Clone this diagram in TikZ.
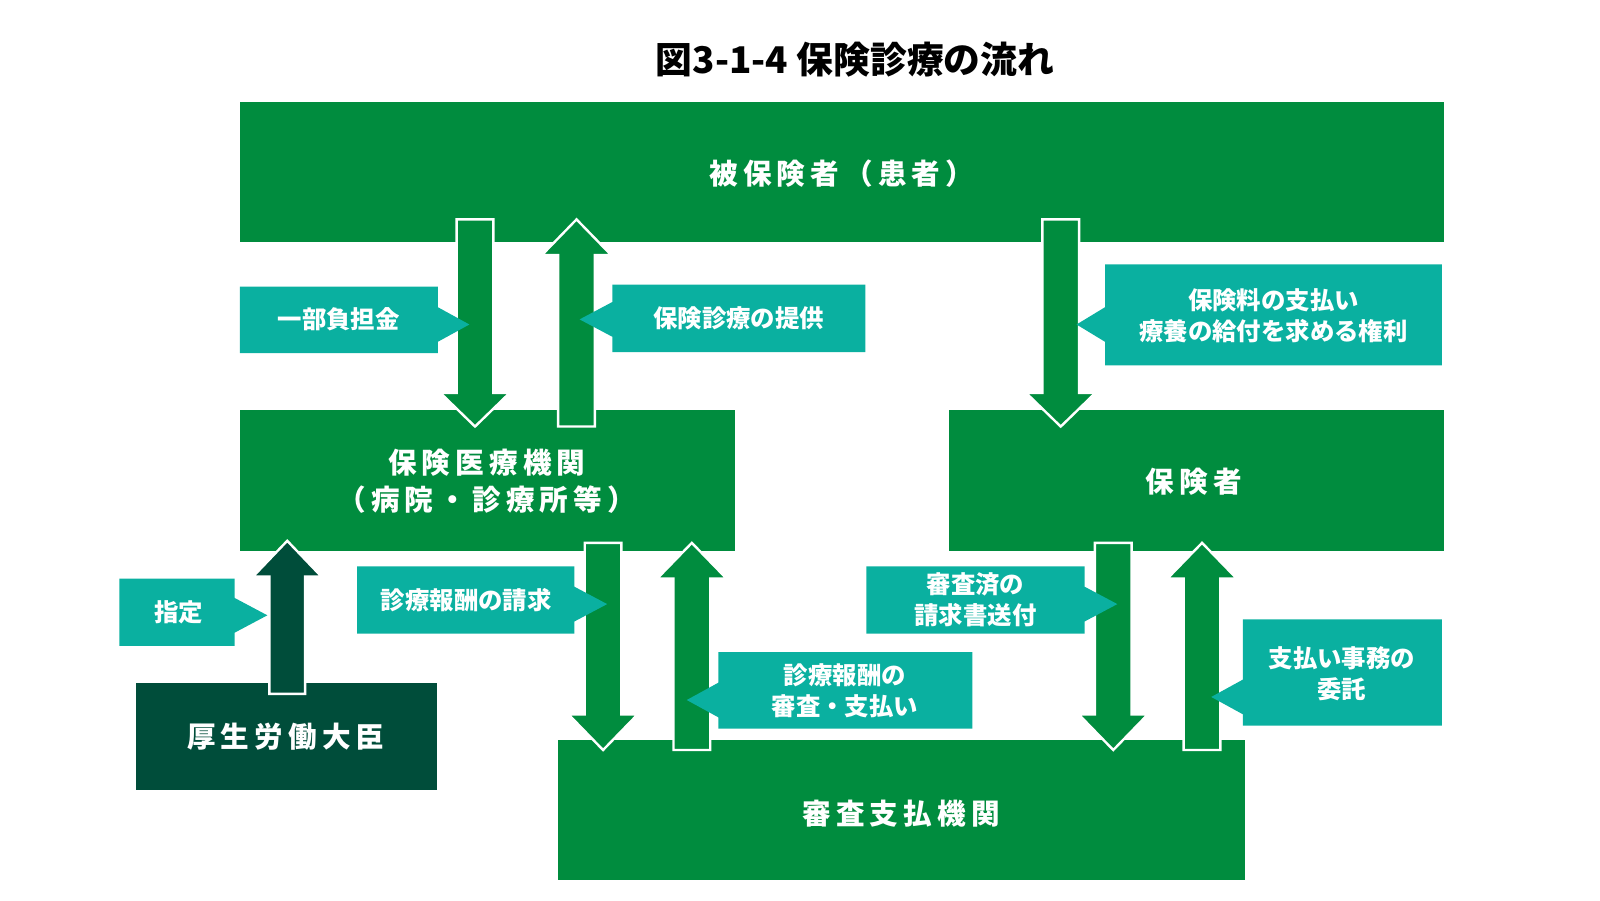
\documentclass[tikz,border=0pt]{standalone}
\usepackage{fontspec}
\setmainfont{Noto Sans CJK JP}
\newfontfamily\cjks{Noto Sans CJK JP}[LetterSpace=18]
\definecolor{gr}{RGB}{0,140,62}
\definecolor{dk}{RGB}{0,77,58}
\definecolor{tl}{RGB}{10,176,160}
\tikzset{
 box/.style={fill=gr,draw=none},
 blk/.style={fill=gr,draw=white,line width=1.2pt,line join=miter},
 lab/.style={fill=tl,draw=none},
 ttl/.style={text=white,font=\cjks\bfseries\fontsize{14.3}{18.5}\selectfont,align=center},
 ltx/.style={text=white,font=\bfseries\fontsize{12.2}{15.5}\selectfont,align=center},
}
\newcommand\myDown[6][gr]{\filldraw[blk,fill=#1] (#2-#3,#4)--(#2+#3,#4)--(#2+#3,#6)--(#2+#3+16,#6)--(#2,#5)--(#2-#3-16,#6)--(#2-#3,#6)--cycle;}
\newcommand\myUp[6][gr]{\filldraw[blk,fill=#1] (#2-#3,#4)--(#2+#3,#4)--(#2+#3,#6)--(#2+#3+16,#6)--(#2,#5)--(#2-#3-16,#6)--(#2-#3,#6)--cycle;}
\begin{document}
\begin{tikzpicture}[x=0.5102pt,y=-0.5102pt]
\useasboundingbox (0,0) rectangle (1568,882);
\node (title) at (838,58) {\bfseries\fontsize{18.4}{22}\selectfont 図3-1-4 保険診療の流れ};
\fill[box] (235,100) rectangle (1415,237);
\node[ttl] (pat) at (825,170) {被保険者（患者）};
\fill[box] (235,402) rectangle (720,540);
\node[ttl] (hosp) at (477,472) {保険医療機関\\（病院・診療所等）};
\fill[box] (930,402) rectangle (1415,540);
\node[ttl] (ins) at (1170,472) {保険者};
\fill[box] (547,725) rectangle (1220,862);
\node[ttl] (rev) at (883,797) {審査支払機関};
\fill[dk] (133,669) rectangle (428,774);
\node[ttl] (min) at (280,722) {厚生労働大臣};
\myDown{465.5}{18}{215}{418}{385}
\myUp{565}{18}{418}{215}{250}
\myDown{1039.5}{18}{215}{418}{385}
\myDown{591}{18}{532}{735}{700}
\myUp{678}{18}{735}{532}{567}
\myDown{1091}{18}{532}{735}{700}
\myUp{1178}{18}{735}{532}{567}
\myUp[dk]{281.5}{17.5}{680}{530}{565}
\fill[lab] (235,281) rectangle (429,346) (429,301)--(460,318)--(429,335)--cycle;
\node[ltx] (l1) at (332,313) {一部負担金};
\fill[lab] (600,279) rectangle (848,345) (600,296)--(568,313)--(600,330)--cycle;
\node[ltx] (l2) at (724,312) {保険診療の提供};
\fill[lab] (1083,259) rectangle (1413,358) (1083,301)--(1055,318)--(1083,335)--cycle;
\node[ltx] (l3) at (1248,309) {保険料の支払い\\療養の給付を求める権利};
\fill[lab] (117,567) rectangle (230,633) (230,586)--(262,603)--(230,620)--cycle;
\node[ltx] (l4) at (175,600) {指定};
\fill[lab] (350,555) rectangle (563,621) (563,575)--(595,592)--(563,609)--cycle;
\node[ltx] (l5) at (457,588) {診療報酬の請求};
\fill[lab] (704,639) rectangle (953,714) (704,669)--(673,686)--(704,703)--cycle;
\node[ltx] (l6) at (828,677) {診療報酬の\\審査・支払い};
\fill[lab] (849,555) rectangle (1063,621) (1063,575)--(1095,592)--(1063,609)--cycle;
\node[ltx] (l7) at (956,588) {審査済の\\請求書送付};
\fill[lab] (1218,607) rectangle (1413,711) (1218,666)--(1187,683)--(1218,700)--cycle;
\node[ltx] (l8) at (1315,660) {支払い事務の\\委託};
\end{tikzpicture}
\end{document}
